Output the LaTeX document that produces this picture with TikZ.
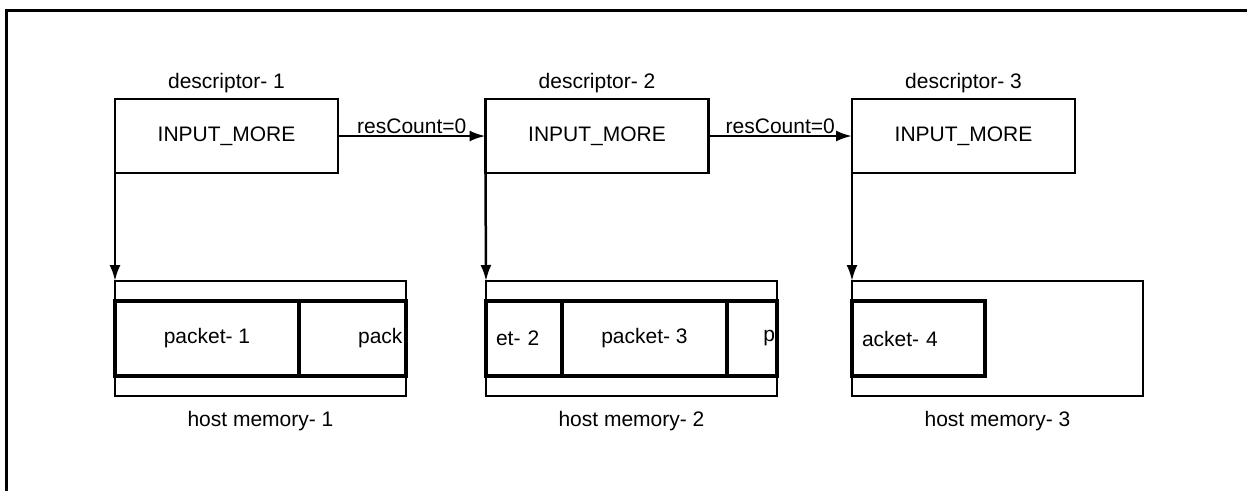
\documentclass[tikz,border=0pt]{standalone}
\usepackage{fontspec}
\setmainfont{Liberation Sans}
\usetikzlibrary{positioning, arrows.meta}

\begin{document}
\begin{tikzpicture}[x=1pt, y=-1pt, node distance=12pt,
    font=\fontsize{21}{25}\selectfont, line width=2.5pt,
    descbox/.style={draw, rectangle, minimum width=223pt, minimum height=74pt, inner sep=0pt, outer sep=0pt},
    membox/.style={draw, rectangle, minimum width=291pt, minimum height=115pt, inner sep=0pt, outer sep=0pt},
    cell/.style={draw, rectangle, line width=3.5pt, minimum height=75pt, inner ysep=0pt, inner xsep=0pt, outer sep=0pt, anchor=west},
    arrow/.style={-{Latex[length=16pt, width=11pt]}, line width=2.5pt},
    label/.style={inner sep=2pt}
  ]
  \useasboundingbox (0,0) rectangle (1247,491);
  % frame
  \draw[line width=3pt] (6,491) -- (6,10) -- (1247,10);

  % descriptors
  \node[descbox] (desc1) at (226.5,136) {INPUT\_MORE};
  \node[descbox] (desc2) at (597,136) {INPUT\_MORE};
  \node[descbox] (desc3) at (963.5,136) {INPUT\_MORE};
  \node[label, above=3pt of desc1] (dlab1) {descriptor- 1};
  \node[label, above=3pt of desc2] (dlab2) {descriptor- 2};
  \node[label, above=3pt of desc3] (dlab3) {descriptor- 3};

  % host memory
  \node[membox] (mem1) at (260.5,338.5) {};
  \node[membox] (mem2) at (631.5,338.5) {};
  \node[membox] (mem3) at (997.5,338.5) {};
  \node[label, below=12pt of mem1] (mlab1) {host memory- 1};
  \node[label, below=12pt of mem2] (mlab2) {host memory- 2};
  \node[label, below=12pt of mem3] (mlab3) {host memory- 3};

  % packets
  \node[cell, minimum width=184pt] (pkt1) at (mem1.west) {packet- 1};
  \node[cell, minimum width=107pt, text width=100pt, inner xsep=3.5pt, align=right, right=0pt of pkt1] (pkt2a) {pack};
  \node[cell, minimum width=76pt, text width=56pt, inner xsep=10pt, align=left] (pkt2b) at (mem2.west) {et- 2};
  \node[cell, minimum width=165pt, right=0pt of pkt2b] (pkt3) {packet- 3};
  \node[cell, minimum width=50pt, text width=46pt, inner xsep=2pt, align=right, right=0pt of pkt3] (pkt4a) {p};
  \node[cell, minimum width=133pt, text width=113pt, inner xsep=10pt, align=left] (pkt4b) at (mem3.west) {acket- 4};

  % connectors
  \draw[arrow] (desc1) -- node[label, above, inner sep=1pt] {resCount=0} (desc2);
  \draw[arrow] (desc2) -- node[label, above, inner sep=1pt] {resCount=0} (desc3);
  \draw[arrow] (desc1.south west) -- (mem1.north west);
  \draw[arrow] (desc2.south west) -- (mem2.north west);
  \draw[arrow] (desc3.south west) -- (mem3.north west);
\end{tikzpicture}
\end{document}
